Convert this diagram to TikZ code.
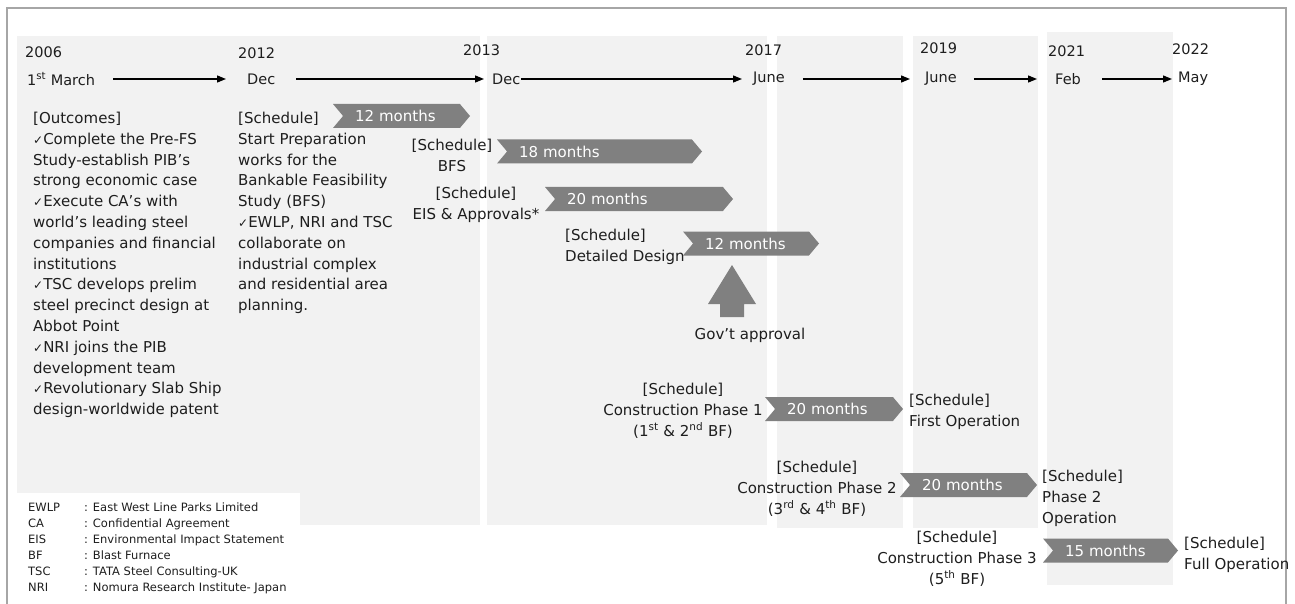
\documentclass[tikz,border=0pt]{standalone}
\usepackage{fontspec}
\setmainfont{DejaVu Sans}
\usetikzlibrary{arrows.meta, shapes.symbols}

\definecolor{panelg}{HTML}{F2F2F2}
\definecolor{barg}{HTML}{808080}
\definecolor{framec}{HTML}{A6A6A6}
\definecolor{txt}{HTML}{1E1E1E}

\newcommand{\chk}{{\fontsize{12}{12}\selectfont ✓}}

\begin{document}
\begin{tikzpicture}[x=1pt,y=-1pt,
  every node/.style={text=txt, inner sep=0pt},
  yr/.style={font=\fontsize{14.5}{17}\selectfont, anchor=west},
  tl/.style={-{Triangle[length=9pt,width=7pt]}, line width=1.3pt, black},
  body/.style={font=\fontsize{15}{20.8}\selectfont, align=left, anchor=north west},
  bodyc/.style={font=\fontsize{15}{20.8}\selectfont, align=center, anchor=north},
  chev/.style 2 args={signal, signal to=east, signal from=west,
    signal pointer angle=100, fill=barg, text=white,
    font=\fontsize{15}{17}\selectfont, minimum height=24pt,
    minimum width=#1, text width=#2, align=left}]
  \useasboundingbox (0,0) rectangle (1295,604);

  % panels
  \fill[panelg] (17,36)   rectangle (480,525);
  \fill[panelg] (487,36)  rectangle (767,525);
  \fill[panelg] (777,36)  rectangle (903,528);
  \fill[panelg] (913,36)  rectangle (1038,528);
  \fill[panelg] (1047,32) rectangle (1173,585);
  \fill[white]  (17,493)  rectangle (300,604);
  \draw[framec, line width=1.5pt] (7,604) -- (7,8) -- (1286,8) -- (1286,604);

  % years and months
  \node[yr] (y06) at (25,52)   {2006};
  \node[yr] (y12) at (238,53)  {2012};
  \node[yr] (y13) at (463,50)  {2013};
  \node[yr] (y17) at (745,50)  {2017};
  \node[yr] (y19) at (920,48)  {2019};
  \node[yr] (y21) at (1048,51) {2021};
  \node[yr] (y22) at (1172,49) {2022};
  \node[yr] (m06) at (27,79)   {1\textsuperscript{st} March};
  \node[yr] (m12) at (247,79)  {Dec};
  \node[yr] (m13) at (492,79)  {Dec};
  \node[yr] (m17) at (753,79)  {June};
  \node[yr] (m19) at (925,79)  {June};
  \node[yr] (m21) at (1055,79) {Feb};
  \node[yr] (m22) at (1178,79) {May};
  \draw[tl, shorten <=18pt, shorten >=21pt] (m06) -- (m12);
  \draw[tl, shorten <=21pt, shorten >=8pt]  (m12) -- (m13);
  \draw[tl, shorten <=1pt,  shorten >=11pt] (m13) -- (m17);
  \draw[tl, shorten <=18pt, shorten >=15pt] (m17) -- (m19);
  \draw[tl, shorten <=17pt, shorten >=18pt] (m19) -- (m21);
  \draw[tl, shorten <=21pt, shorten >=6pt]  (m21) -- (m22);

  % text blocks
  \node[body] (outc) at (33,112) {[Outcomes]\\
    \chk Complete the Pre-FS\\ Study-establish PIB’s\\ strong economic case\\
    \chk Execute CA’s with\\ world’s leading steel\\ companies and financial\\
    institutions\\ \chk TSC develops prelim\\ steel precinct design at\\
    Abbot Point\\ \chk NRI joins the PIB\\ development team\\
    \chk Revolutionary Slab Ship\\ design-worldwide patent};
  \node[body] (prep) at (238,112) {[Schedule]\\ Start Preparation\\
    works for the\\ Bankable Feasibility\\ Study (BFS)\\
    \chk EWLP, NRI and TSC\\ collaborate on\\ industrial complex\\
    and residential area\\ planning.};
  \node[bodyc] (bfs) at (452,139) {[Schedule]\\BFS};
  \node[bodyc] (eis) at (476,187) {[Schedule]\\EIS \& Approvals*};
  \node[body] (dsgn) at (565,229) {[Schedule]\\Detailed Design};
  \node (gov) at (750,335) {\fontsize{15}{17}\selectfont Gov’t approval};
  \node[bodyc] (cp1) at (683,383) {[Schedule]\\Construction Phase 1\\
    (1\textsuperscript{st} \& 2\textsuperscript{nd} BF)};
  \node[body] (op1) at (909,394) {[Schedule]\\First Operation};
  \node[bodyc] (cp2) at (817,461) {[Schedule]\\Construction Phase 2\\
    (3\textsuperscript{rd} \& 4\textsuperscript{th} BF)};
  \node[body] (op2) at (1042,470) {[Schedule]\\Phase 2\\Operation};
  \node[bodyc] (cp3) at (957,531) {[Schedule]\\Construction Phase 3\\
    (5\textsuperscript{th} BF)};
  \node[body] (op3) at (1184,537) {[Schedule]\\Full Operation};

  % duration bars
  \node[chev={137pt}{93pt}] (c1) at (401.5,116) {12 months};
  \node[chev={205pt}{161pt}] (c2) at (599.5,151.5) {18 months};
  \node[chev={188pt}{144pt}] (c3) at (639,199) {20 months};
  \node[chev={136pt}{92pt}] (c4) at (751,243.5) {12 months};
  \node[chev={138pt}{94pt}] (c5) at (834,409) {20 months};
  \node[chev={137pt}{93pt}] (c6) at (968.5,485) {20 months};
  \node[chev={135pt}{91pt}] (c7) at (1110.5,550.5) {15 months};

  % government approval
  \fill[barg] (720,317) -- (720,304) -- (708,304) -- (732,265)
    -- (756,304) -- (744,304) -- (744,317) -- cycle;

  % legend
  \node[anchor=north west] (abbr) at (28,500) {\fontsize{11.5}{16}\selectfont
    \begin{tabular}{@{}p{56pt}@{}l@{}}
      EWLP & : East West Line Parks Limited\\
      CA   & : Confidential Agreement\\
      EIS  & : Environmental Impact Statement\\
      BF   & : Blast Furnace\\
      TSC  & : TATA Steel Consulting-UK\\
      NRI  & : Nomura Research Institute- Japan
    \end{tabular}};
\end{tikzpicture}
\end{document}
